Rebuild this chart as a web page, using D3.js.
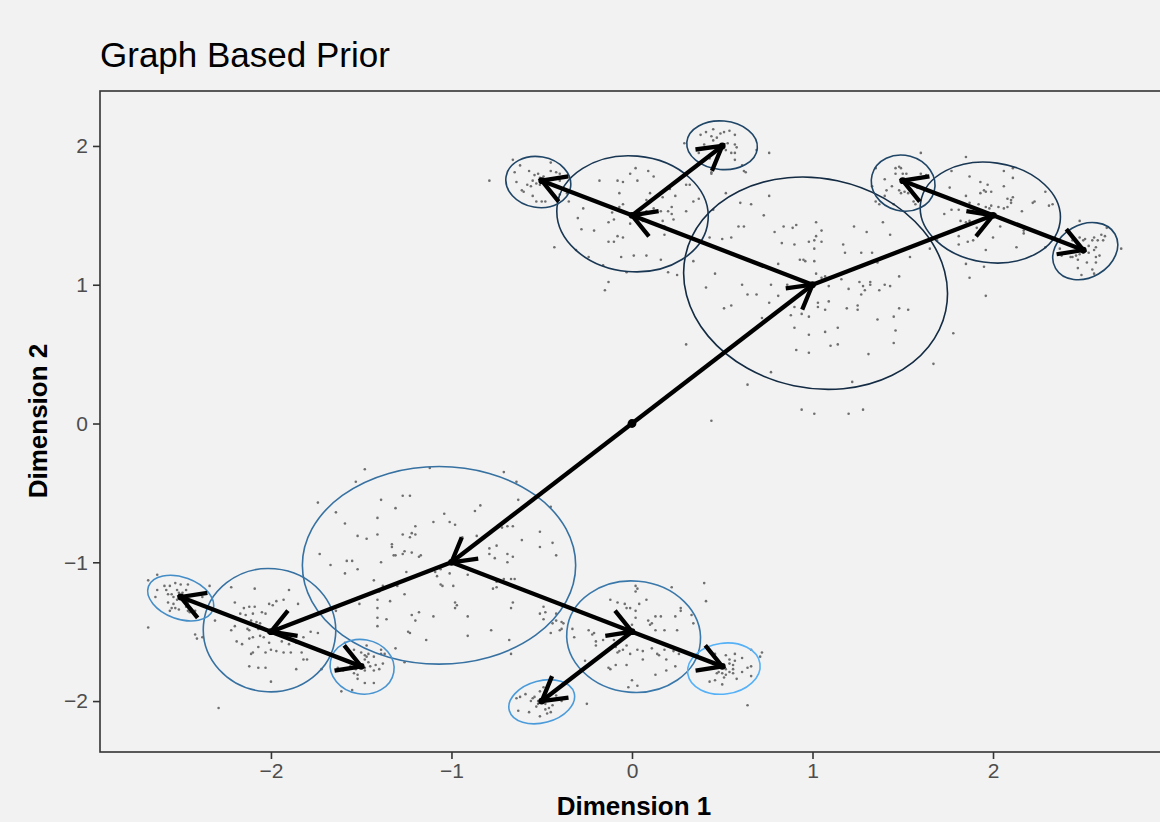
<!DOCTYPE html>
<html>
<head>
<meta charset="utf-8">
<script src="https://cdn.jsdelivr.net/npm/d3@7"></script>
<style>
  body { margin: 0; background: #f2f2f2; }
  svg { display: block; font-family: "Liberation Sans", Arial, Helvetica, sans-serif; }
</style>
</head>
<body>
<div id="wrapper"></div>
<script>
// tree nodes (0 = root)
const nodeX = [0, 1, -1, 0, 2, -2, 0, -0.5, 0.5, 1.5, 2.5, -2.5, -1.5, -0.5, 0.5];
const nodeY = [0, 1, -1, 1.5, 1.5, -1.5, -1.5, 1.75, 2, 1.75, 1.25, -1.25, -1.75, -2, -1.75];
const nodeParent = [null, 0, 0, 1, 1, 2, 2, 3, 3, 4, 4, 5, 5, 6, 6];

// one ellipse per non-root node (same order as nodes 1..14)
const ellCx = [1.017, -1.069, 0.003, 1.985, -2.008, 0.009, -0.519, 0.499, 1.502, 2.511, -2.50, -1.495, -0.50, 0.509];
const ellCy = [1.011, -1.022, 1.511, 1.52, -1.489, -1.536, 1.74, 2.005, 1.732, 1.242, -1.258, -1.753, -2.005, -1.766];
const ellRx = [0.737, 0.757, 0.42, 0.39, 0.367, 0.371, 0.181, 0.196, 0.178, 0.19, 0.19, 0.178, 0.186, 0.202];
const ellRy = [0.755, 0.712, 0.417, 0.36, 0.444, 0.401, 0.183, 0.175, 0.2, 0.19, 0.15, 0.196, 0.151, 0.183];
const ellAngle = [12, 0, 5, 8, 5, 5, 10, 5, 15, -30, 20, 10, -15, -8];
const ellShade = [0, 0.55, 0.1, 0.1, 0.55, 0.6, 0.22, 0.22, 0.22, 0.22, 0.75, 0.8, 0.85, 1];

const xTicks = [-2, -1, 0, 1, 2];
const yTicks = [-2, -1, 0, 1, 2];

// sampled points, by cluster
const ptsU1 = [[-0.66,1.90],[-0.62,1.86],[-0.57,1.82],[-0.54,1.79],[-0.52,1.80],[-0.51,1.77],[-0.50,1.76],[-0.55,1.75],[-0.53,1.73],[-0.51,1.72],[-0.48,1.74],[-0.45,1.82],[-0.42,1.81],[-0.40,1.80],[-0.38,1.78],[-0.64,1.74],[-0.60,1.67],[-0.61,1.68],[-0.55,1.64],[-0.53,1.60],[-0.50,1.60],[-0.48,1.60],[-0.44,1.66],[-0.40,1.65],[-0.37,1.68],[-0.79,1.75],[-0.65,1.81],[-0.45,1.88],[-0.56,1.71],[-0.58,1.72],[-0.40,1.75],[-0.35,1.60],[-0.36,1.66],[-0.47,1.70],[-0.49,1.78]];
const ptsU2 = [[-0.43,1.27],[-0.30,1.48],[-0.28,1.40],[-0.24,1.20],[-0.18,1.75],[-0.16,1.14],[-0.13,1.02],[-0.15,0.96],[-0.08,1.75],[-0.05,1.74],[-0.07,1.66],[-0.05,1.58],[-0.07,1.56],[-0.11,1.52],[-0.10,1.47],[-0.13,1.45],[-0.08,1.35],[-0.05,1.34],[-0.13,1.31],[-0.10,1.31],[-0.01,1.44],[0.03,1.48],[0.06,1.46],[0.08,1.53],[0.08,1.61],[0.12,1.55],[0.16,1.53],[0.17,1.46],[0.20,1.53],[0.22,1.51],[0.23,1.47],[0.22,1.56],[0.18,1.42],[0.03,1.75],[-0.01,1.80],[0.02,1.84],[0.09,1.82],[0.12,1.78],[0.10,1.66],[0.17,1.63],[0.21,1.69],[0.24,1.64],[0.30,1.72],[0.34,1.60],[0.30,1.53],[0.18,1.36],[0.08,1.21],[0.01,1.21],[-0.06,1.20],[0.16,1.18],[0.20,1.09],[0.25,1.07],[-0.03,1.09],[-0.31,1.25],[-0.21,1.39],[-0.27,1.55]];
const ptsU3 = [[0.29,2.02],[0.38,2.08],[0.41,2.10],[0.44,2.07],[0.45,2.04],[0.47,2.06],[0.49,2.09],[0.51,2.10],[0.54,2.11],[0.57,2.08],[0.57,2.01],[0.58,1.99],[0.53,2.02],[0.52,1.97],[0.49,1.97],[0.55,1.95],[0.57,1.95],[0.57,1.90],[0.43,1.99],[0.40,2.01],[0.43,1.91],[0.44,1.81],[0.61,1.86],[0.62,1.82],[0.69,1.97],[0.45,2.12],[0.50,1.98],[0.37,1.95],[0.76,1.95]];
const ptsU4 = [[0.44,1.80],[0.63,1.81],[0.32,1.72],[0.37,1.62],[0.52,1.66],[0.60,1.59],[0.66,1.58],[0.76,1.64],[0.73,1.50],[0.59,1.42],[0.62,1.42],[0.43,1.34],[0.50,1.33],[0.55,1.34],[0.45,1.54],[0.34,1.17],[0.46,1.08],[0.41,0.98],[0.61,1.00],[0.64,0.93],[0.69,0.93],[0.51,0.83],[0.55,0.85],[0.72,0.76],[0.30,0.57],[0.77,0.37],[0.64,0.28],[0.44,0.02],[0.79,1.38],[0.84,1.42],[0.89,1.41],[0.91,1.43],[1.02,1.45],[1.05,1.39],[1.02,1.35],[0.98,1.31],[1.01,1.32],[1.05,1.31],[1.01,1.26],[0.83,1.30],[0.90,1.29],[0.93,1.18],[0.95,1.18],[0.96,1.17],[1.01,1.17],[0.81,1.15],[1.02,1.08],[1.05,1.05],[1.07,1.06],[1.17,1.29],[1.23,1.42],[1.30,1.38],[1.39,1.45],[1.43,1.36],[1.18,1.23],[1.27,1.23],[1.33,1.23],[1.36,1.16],[1.54,1.20],[1.48,1.06],[1.43,0.99],[1.40,1.00],[1.37,0.96],[1.32,1.02],[1.32,1.00],[1.28,0.99],[1.26,1.02],[1.29,0.96],[1.27,0.93],[1.20,0.97],[1.16,1.04],[1.09,0.99],[0.86,1.00],[0.77,1.00],[0.81,0.92],[0.76,0.87],[0.88,0.78],[0.90,0.84],[0.94,0.79],[0.98,0.77],[1.03,0.87],[1.03,0.84],[1.07,0.82],[1.09,0.88],[1.19,0.83],[1.25,0.85],[1.25,0.82],[1.36,0.75],[1.45,0.77],[1.48,0.83],[1.53,0.82],[0.90,0.69],[0.98,0.64],[1.07,0.66],[1.14,0.69],[1.10,0.56],[1.14,0.57],[0.91,0.53],[0.98,0.51],[1.31,0.50],[1.45,0.58],[1.46,0.67],[1.22,0.30],[0.94,0.10],[1.01,0.07],[1.20,0.07],[1.28,0.10],[1.67,0.43],[1.78,0.65],[1.65,1.26]];
const ptsU5 = [[1.60,1.95],[1.35,1.84],[1.46,1.84],[1.48,1.85],[1.49,1.84],[1.46,1.80],[1.50,1.80],[1.52,1.80],[1.40,1.76],[1.49,1.75],[1.44,1.71],[1.48,1.68],[1.49,1.66],[1.51,1.67],[1.53,1.66],[1.58,1.70],[1.60,1.80],[1.63,1.79],[1.40,1.64],[1.35,1.60],[1.37,1.58],[1.45,1.58],[1.57,1.58],[1.33,1.71],[1.41,1.68],[1.56,1.60]];
const ptsU6 = [[1.85,1.92],[1.76,1.70],[1.87,1.78],[1.93,1.74],[1.95,1.68],[1.93,1.66],[1.96,1.67],[1.97,1.72],[1.99,1.67],[2.06,1.71],[2.11,1.77],[2.08,1.62],[2.10,1.61],[2.11,1.63],[2.10,1.59],[2.08,1.56],[2.06,1.55],[2.03,1.56],[1.99,1.57],[1.98,1.55],[1.96,1.56],[1.92,1.58],[1.87,1.59],[1.85,1.64],[1.81,1.60],[1.77,1.54],[1.73,1.51],[1.81,1.54],[1.82,1.46],[1.87,1.46],[1.85,1.45],[1.91,1.41],[1.95,1.42],[2.00,1.34],[2.04,1.42],[2.08,1.46],[2.16,1.53],[2.17,1.39],[2.17,1.37],[2.13,1.27],[2.22,1.59],[2.23,1.60],[2.29,1.67],[2.33,1.58],[2.31,1.57],[2.29,1.27],[1.96,1.25],[1.85,1.15],[1.87,1.05],[1.95,1.13],[1.96,0.92],[1.81,1.35],[1.81,1.29],[1.86,1.31],[1.89,1.32],[1.69,1.32],[2.11,1.84],[2.06,1.82],[1.77,1.82]];
const ptsU7 = [[2.48,1.46],[2.37,1.26],[2.38,1.21],[2.42,1.39],[2.44,1.32],[2.48,1.34],[2.50,1.32],[2.51,1.33],[2.53,1.28],[2.55,1.32],[2.58,1.32],[2.60,1.36],[2.62,1.35],[2.61,1.32],[2.63,1.41],[2.56,1.34],[2.57,1.27],[2.56,1.25],[2.53,1.23],[2.50,1.23],[2.48,1.22],[2.46,1.21],[2.44,1.20],[2.43,1.20],[2.47,1.18],[2.52,1.16],[2.57,1.20],[2.57,1.16],[2.47,1.12],[2.55,1.11],[2.56,1.08],[2.49,1.07],[2.71,1.26],[2.59,1.21]];
const ptsL1 = [[-1.48,-0.33],[-1.12,-0.32],[-0.71,-0.35],[-0.64,-0.42],[-1.53,-0.42],[-1.74,-0.57],[-1.39,-0.55],[-1.27,-0.52],[-1.23,-0.52],[-1.31,-0.61],[-1.64,-0.64],[-1.41,-0.68],[-1.59,-0.72],[-1.52,-0.81],[-1.47,-0.83],[-1.41,-0.80],[-1.33,-0.87],[-1.33,-0.89],[-1.27,-0.80],[-1.22,-0.79],[-1.20,-0.80],[-1.23,-0.82],[-1.20,-0.74],[-1.32,-0.95],[-1.31,-0.95],[-1.27,-0.94],[-1.26,-0.92],[-1.22,-0.93],[-1.18,-0.96],[-1.17,-0.95],[-1.10,-0.71],[-1.04,-0.65],[-1.01,-0.71],[-0.98,-0.73],[-0.87,-0.63],[-0.84,-0.59],[-0.63,-0.55],[-0.45,-0.60],[-0.94,-0.82],[-0.86,-0.81],[-0.72,-0.75],[-0.69,-0.74],[-0.66,-0.74],[-0.51,-0.78],[-0.61,-0.84],[-0.75,-0.88],[-0.79,-0.90],[-0.79,-0.94],[-0.51,-0.89],[-0.44,-0.86],[-0.42,-0.95],[-0.69,-0.94],[-0.66,-0.96],[-0.76,-0.97],[-0.69,-1.00],[-1.67,-1.02],[-1.58,-0.99],[-1.55,-0.99],[-1.52,-1.05],[-1.59,-1.08],[-1.39,-1.00],[-1.73,-0.94],[-1.25,-1.07],[-1.09,-1.07],[-1.06,-1.05],[-1.01,-1.08],[-1.08,-1.10],[-1.06,-1.16],[-1.05,-1.17],[-0.99,-1.17],[-0.91,-1.09],[-1.43,-1.13],[-1.38,-1.17],[-1.30,-1.17],[-1.40,-1.21],[-1.41,-1.27],[-1.34,-1.28],[-1.26,-1.23],[-1.51,-1.30],[-1.41,-1.33],[-1.64,-1.35],[-0.75,-1.14],[-0.77,-1.19],[-0.75,-1.18],[-0.71,-1.12],[-0.65,-1.12],[-0.66,-1.29],[-0.98,-1.29],[-0.97,-1.31],[-0.98,-1.33],[-1.18,-1.36],[-1.22,-1.38],[-1.20,-1.42],[-1.10,-1.39],[-0.91,-1.39],[-1.41,-1.40],[-1.36,-1.41],[-1.41,-1.46],[-1.24,-1.50],[-1.23,-1.51],[-1.14,-1.56],[-0.91,-1.53],[-0.78,-1.49],[-0.68,-1.56],[-1.31,-1.62],[-0.51,-1.37],[-0.49,-1.32],[-0.42,-1.37],[-0.44,-1.44],[-0.39,-1.43],[-0.38,-1.44],[-0.33,-1.48]];
const ptsL2 = [[-2.22,-1.18],[-2.09,-1.19],[-1.90,-1.20],[-2.20,-1.29],[-2.15,-1.33],[-2.12,-1.32],[-2.09,-1.32],[-2.17,-1.37],[-2.14,-1.38],[-2.10,-1.37],[-2.05,-1.36],[-2.03,-1.37],[-2.01,-1.30],[-1.97,-1.28],[-1.93,-1.27],[-1.85,-1.30],[-1.99,-1.31],[-2.31,-1.42],[-2.11,-1.42],[-2.08,-1.43],[-2.06,-1.44],[-2.20,-1.46],[-2.13,-1.48],[-2.12,-1.49],[-2.22,-1.49],[-2.07,-1.48],[-1.99,-1.50],[-1.96,-1.51],[-1.91,-1.52],[-1.82,-1.54],[-1.78,-1.50],[-1.74,-1.51],[-2.10,-1.54],[-2.06,-1.53],[-2.04,-1.54],[-2.19,-1.57],[-2.16,-1.59],[-2.12,-1.55],[-2.01,-1.58],[-1.94,-1.57],[-1.90,-1.59],[-1.86,-1.58],[-2.07,-1.61],[-2.00,-1.63],[-1.97,-1.64],[-1.93,-1.65],[-1.89,-1.65],[-2.10,-1.65],[-2.11,-1.66],[-2.03,-1.65],[-1.83,-1.65],[-1.82,-1.70],[-1.80,-1.70],[-2.12,-1.75],[-2.07,-1.76],[-2.03,-1.76],[-1.86,-1.77],[-2.00,-1.86],[-1.72,-1.77],[-2.29,-2.05],[-2.42,-1.52],[-2.41,-1.55],[-2.38,-1.54]];
const ptsL3 = [[-2.68,-1.13],[-2.63,-1.09],[-2.59,-1.17],[-2.56,-1.17],[-2.58,-1.20],[-2.57,-1.23],[-2.55,-1.23],[-2.52,-1.20],[-2.51,-1.22],[-2.49,-1.22],[-2.47,-1.20],[-2.46,-1.16],[-2.50,-1.16],[-2.53,-1.15],[-2.63,-1.20],[-2.64,-1.25],[-2.54,-1.25],[-2.52,-1.27],[-2.57,-1.29],[-2.55,-1.33],[-2.53,-1.33],[-2.51,-1.34],[-2.56,-1.35],[-2.47,-1.32],[-2.46,-1.35],[-2.45,-1.36],[-2.42,-1.35],[-2.40,-1.30],[-2.38,-1.25],[-2.34,-1.17],[-2.46,-1.29],[-2.68,-1.47],[-2.54,-1.30]];
const ptsL4 = [[-1.59,-1.58],[-1.54,-1.63],[-1.50,-1.65],[-1.48,-1.67],[-1.47,-1.68],[-1.46,-1.66],[-1.48,-1.70],[-1.46,-1.72],[-1.43,-1.68],[-1.39,-1.66],[-1.38,-1.73],[-1.42,-1.74],[-1.45,-1.75],[-1.48,-1.76],[-1.51,-1.76],[-1.53,-1.77],[-1.54,-1.80],[-1.52,-1.81],[-1.48,-1.78],[-1.43,-1.78],[-1.40,-1.77],[-1.56,-1.75],[-1.60,-1.78],[-1.63,-1.76],[-1.52,-1.84],[-1.48,-1.87],[-1.43,-1.87],[-1.55,-1.92],[-1.61,-1.93],[-1.39,-1.63],[-1.37,-1.66],[-1.26,-1.72],[-1.47,-1.60]];
const ptsL5 = [[0.02,-1.17],[0.03,-1.19],[0.02,-1.21],[-0.12,-1.27],[-0.08,-1.29],[-0.04,-1.30],[0.04,-1.30],[0.08,-1.27],[-0.03,-1.33],[-0.01,-1.33],[0.02,-1.35],[0.22,-1.18],[0.27,-1.33],[0.27,-1.35],[0.33,-1.38],[0.24,-1.39],[0.16,-1.39],[0.13,-1.39],[0.09,-1.42],[0.10,-1.45],[0.11,-1.44],[0.13,-1.49],[0.07,-1.54],[0.02,-1.40],[0.00,-1.45],[-0.02,-1.47],[-0.04,-1.49],[0.18,-1.49],[0.25,-1.49],[-0.24,-1.49],[-0.21,-1.51],[-0.22,-1.52],[-0.32,-1.54],[-0.20,-1.57],[-0.16,-1.56],[-0.10,-1.56],[-0.03,-1.60],[-0.09,-1.61],[-0.20,-1.60],[-0.26,-1.71],[-0.13,-1.76],[-0.12,-1.77],[-0.09,-1.74],[-0.08,-1.65],[-0.07,-1.64],[-0.05,-1.63],[-0.03,-1.74],[-0.01,-1.66],[0.03,-1.63],[0.06,-1.64],[0.06,-1.70],[0.14,-1.66],[0.15,-1.67],[0.18,-1.63],[0.19,-1.70],[0.23,-1.64],[0.26,-1.66],[0.24,-1.75],[0.19,-1.78],[0.13,-1.81],[0.00,-1.85],[-0.02,-1.90],[0.03,-1.89],[0.11,-1.62],[-0.25,-2.02],[0.40,-1.15],[0.41,-1.28],[0.64,-2.03],[-0.67,-1.33],[-0.49,-1.41],[-0.42,-1.42],[-0.45,-1.51],[-0.39,-1.48],[-0.40,-1.49],[-0.67,-1.66],[-0.48,-1.36],[-0.74,-1.13],[-0.67,-1.12],[0.34,-1.44]];
const ptsL6 = [[-0.64,-1.98],[-0.62,-1.97],[-0.59,-1.95],[-0.56,-2.00],[-0.55,-1.98],[-0.54,-1.97],[-0.52,-2.00],[-0.52,-2.02],[-0.50,-2.01],[-0.48,-2.02],[-0.46,-2.05],[-0.45,-2.08],[-0.44,-2.03],[-0.48,-2.06],[-0.53,-2.04],[-0.57,-2.08],[-0.63,-2.07],[-0.51,-1.93],[-0.49,-1.90],[-0.47,-1.98],[-0.42,-1.96],[-0.39,-2.00],[-0.51,-2.11],[-0.47,-2.09]];
const ptsL7 = [[0.46,-1.66],[0.52,-1.67],[0.57,-1.66],[0.61,-1.69],[0.66,-1.63],[0.71,-1.68],[0.72,-1.65],[0.66,-1.75],[0.64,-1.76],[0.61,-1.79],[0.57,-1.71],[0.56,-1.74],[0.54,-1.73],[0.51,-1.74],[0.52,-1.77],[0.54,-1.79],[0.56,-1.77],[0.56,-1.80],[0.52,-1.81],[0.50,-1.80],[0.48,-1.79],[0.47,-1.80],[0.51,-1.83],[0.46,-1.85],[0.43,-1.86],[0.66,-1.82],[0.58,-1.84],[0.50,-1.88],[0.54,-1.70]];

function buildChart() {
    const allPoints = [].concat(ptsU1, ptsU2, ptsU3, ptsU4, ptsU5, ptsU6, ptsU7,
                                ptsL1, ptsL2, ptsL3, ptsL4, ptsL5, ptsL6, ptsL7);

    const dimension = {
        width: 1160,
        height: 822,
        margin: { top: 91, left: 100, bottom: 70, right: -4 }
    };

    const svg = d3.select("#wrapper")
        .append("svg")
        .attr("width", dimension.width)
        .attr("height", dimension.height);

    svg.append("rect")
        .attr("width", dimension.width)
        .attr("height", dimension.height)
        .attr("fill", "#f2f2f2");

    const left = dimension.margin.left;
    const right = dimension.width - dimension.margin.right;
    const top = dimension.margin.top;
    const bottom = dimension.height - dimension.margin.bottom;

    const xScaler = d3.scaleLinear().domain([-2.947, 2.925]).range([left, 1160]);
    const yScaler = d3.scaleLinear().domain([-2.367, 2.396]).range([bottom, top]);

    const colour = d3.scaleLinear()
        .domain([0, 1])
        .range(["#132B43", "#56B1F7"])
        .interpolate(d3.interpolateLab);

    const plot = svg.append("g");

    // scatter
    plot.append("g")
        .selectAll("circle")
        .data(allPoints)
        .join("circle")
        .attr("cx", d => xScaler(d[0]))
        .attr("cy", d => yScaler(d[1]))
        .attr("r", 1.3)
        .attr("fill", "#6f6f6f");

    // ellipses
    const ellIdx = d3.range(ellCx.length);
    plot.append("g")
        .selectAll("ellipse")
        .data(ellIdx)
        .join("ellipse")
        .attr("transform", i => `translate(${xScaler(ellCx[i])},${yScaler(ellCy[i])}) rotate(${ellAngle[i]})`)
        .attr("rx", i => xScaler(ellRx[i]) - xScaler(0))
        .attr("ry", i => yScaler(0) - yScaler(ellRy[i]))
        .attr("fill", "none")
        .attr("stroke", i => colour(ellShade[i]))
        .attr("stroke-width", 1.6);

    // edges with open arrow heads
    const edges = d3.range(nodeX.length).filter(i => nodeParent[i] !== null);
    const headLen = 27;
    const headAngle = Math.PI / 6;
    const line = d3.line();
    const edgeG = plot.append("g")
        .attr("fill", "none")
        .attr("stroke", "black")
        .attr("stroke-width", 4.3)
        .attr("stroke-linejoin", "miter")
        .attr("stroke-linecap", "butt");

    edges.forEach(i => {
        const p = nodeParent[i];
        const x0 = xScaler(nodeX[p]), y0 = yScaler(nodeY[p]);
        const x1 = xScaler(nodeX[i]), y1 = yScaler(nodeY[i]);
        const a = Math.atan2(y1 - y0, x1 - x0);
        edgeG.append("path").attr("d", line([[x0, y0], [x1, y1]]));
        edgeG.append("path").attr("d", line([
            [x1 - headLen * Math.cos(a - headAngle), y1 - headLen * Math.sin(a - headAngle)],
            [x1, y1],
            [x1 - headLen * Math.cos(a + headAngle), y1 - headLen * Math.sin(a + headAngle)]
        ]));
    });

    // node dots
    plot.append("g")
        .selectAll("circle")
        .data(d3.range(nodeX.length))
        .join("circle")
        .attr("cx", i => xScaler(nodeX[i]))
        .attr("cy", i => yScaler(nodeY[i]))
        .attr("r", i => i === 0 ? 4.4 : 3.4)
        .attr("fill", "black");

    // panel border (right side runs off the page)
    svg.append("rect")
        .attr("x", left)
        .attr("y", top)
        .attr("width", right - left)
        .attr("height", bottom - top)
        .attr("fill", "none")
        .attr("stroke", "#333333")
        .attr("stroke-width", 1.6);

    // axes
    const xAxis = svg.append("g")
        .attr("transform", `translate(0,${bottom})`)
        .call(d3.axisBottom(xScaler).tickValues(xTicks).tickSize(7).tickPadding(4)
            .tickFormat(d => d < 0 ? "\u2212" + Math.abs(d) : d));
    const yAxis = svg.append("g")
        .attr("transform", `translate(${left},0)`)
        .call(d3.axisLeft(yScaler).tickValues(yTicks).tickSize(7).tickPadding(5)
            .tickFormat(d => d < 0 ? "\u2212" + Math.abs(d) : d));

    [xAxis, yAxis].forEach(ax => {
        ax.select(".domain").remove();
        ax.selectAll(".tick line").attr("stroke", "#333333").attr("stroke-width", 1.6);
        ax.selectAll(".tick text")
            .attr("fill", "#4d4d4d")
            .attr("font-size", "21px")
            .attr("font-family", "'Liberation Sans', Arial, sans-serif");
    });

    // titles
    svg.append("text")
        .attr("x", left)
        .attr("y", 67)
        .text("Graph Based Prior")
        .attr("font-size", "35px")
        .attr("fill", "black");

    svg.append("text")
        .attr("x", 634)
        .attr("y", 815)
        .attr("text-anchor", "middle")
        .attr("font-size", "26px")
        .attr("font-weight", "bold")
        .text("Dimension 1");

    svg.append("text")
        .attr("transform", "translate(47,421) rotate(-90)")
        .attr("text-anchor", "middle")
        .attr("font-size", "26px")
        .attr("font-weight", "bold")
        .text("Dimension 2");
}

buildChart();
</script>
</body>
</html>
